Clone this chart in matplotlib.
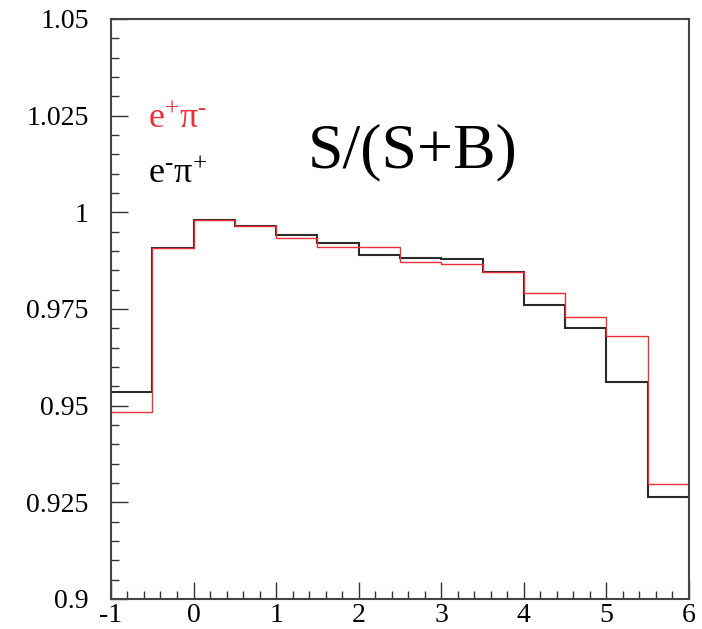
import matplotlib
matplotlib.use('Agg')
from matplotlib import pyplot as plt
from matplotlib.ticker import MultipleLocator, FixedLocator
import numpy as np

# bin edges (pT-like variable, 0.5 wide)
edges = [-1, -0.5, 0, 0.5, 1, 1.5, 2, 2.5, 3, 3.5, 4, 4.5, 5, 5.5, 6]

# S/(S+B) per bin
epi_plus_minus = [0.9484, 0.9907, 0.9979, 0.9964, 0.9933, 0.9911, 0.9911,
                  0.9872, 0.9866, 0.9845, 0.9791, 0.9728, 0.9681, 0.9297]   # e+ pi-
epi_minus_plus = [0.9535, 0.9907, 0.9979, 0.9964, 0.9941, 0.9920, 0.9890,
                  0.9881, 0.9878, 0.9845, 0.9760, 0.9700, 0.9560, 0.9265]   # e- pi+

xticks = [-1, 0, 1, 2, 3, 4, 5, 6]
yticks = [0.9, 0.925, 0.95, 0.975, 1.0, 1.025, 1.05]
ylabels = ['0.9', '0.925', '0.95', '0.975', '1', '1.025', '1.05']

plt.rcParams['font.family'] = 'Liberation Serif'
plt.rcParams['mathtext.fontset'] = 'custom'
plt.rcParams['mathtext.rm'] = 'Liberation Serif'
plt.rcParams['mathtext.it'] = 'Liberation Serif:italic'

fig = plt.figure(figsize=(7.02, 6.29), dpi=100)
ax = fig.add_axes([0.158, 0.0477, 0.8235, 0.9223])

ax.stairs(epi_minus_plus, edges, baseline=None, color='#2a2a2a', lw=1.5)
ax.stairs(epi_plus_minus, edges, baseline=None, color='#e8303a', lw=1.0)

ax.set_xlim(-1, 6)
ax.set_ylim(0.9, 1.05)

ax.xaxis.set_major_locator(FixedLocator(xticks))
ax.xaxis.set_minor_locator(MultipleLocator(0.2))
ax.set_xticklabels([str(t) for t in xticks])
ax.yaxis.set_major_locator(FixedLocator(yticks))
ax.yaxis.set_minor_locator(MultipleLocator(0.005))
ax.set_yticklabels(ylabels)

ax.tick_params(which='both', direction='in', top=False, right=False,
               color='#333333', width=1.0)
ax.tick_params(which='major', length=12)
ax.tick_params(which='minor', length=6)
ax.tick_params(axis='x', which='major', labelsize=20, pad=3)
ax.tick_params(axis='y', which='major', labelsize=20, pad=16)

for s in ax.spines.values():
    s.set_color('#444444')
    s.set_linewidth(1.5)

fig.text(148 / 702, 1 - 128 / 629, r'$\mathrm{e^{+}π^{\text{-}}}$', color='#e8303a',
         fontsize=26, va='baseline', ha='left')
fig.text(148 / 702, 1 - 183 / 629, r'$\mathrm{e^{\text{-}}π^{+}}$', color='black',
         fontsize=26, va='baseline', ha='left')
fig.text(308 / 702, 1 - 167 / 629, 'S/(S+B)', color='black',
         fontsize=46, va='baseline', ha='left')

fig.savefig('out.png', dpi=100)
